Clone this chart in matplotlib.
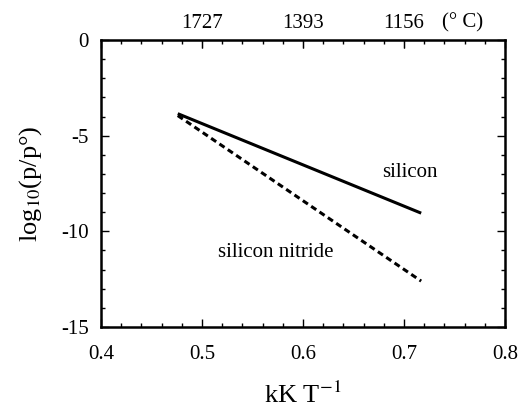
import numpy as np
import matplotlib
matplotlib.use('Agg')
import matplotlib.pyplot as plt
from matplotlib.ticker import MultipleLocator

# vapour pressure lines (end points)
inv_T = [0.476, 0.717]
log_p_si = [-3.85, -9.05]
log_p_sin = [-3.95, -12.6]

top_pos = [0.5, 0.6, 0.7]
top_labels = ['1727', '1393', '1156']

plt.rcParams['font.family'] = ['Liberation Serif', 'DejaVu Serif']
plt.rcParams['mathtext.fontset'] = 'stix'

fig = plt.figure(figsize=(5.26, 4.09), dpi=100)
ax = fig.add_axes([101/526, 1-327/409, 404/526, 287/409])

ax.plot(inv_T, log_p_si, color='black', lw=2.2, solid_capstyle='butt')
ax.plot(inv_T, log_p_sin, color='black', lw=2.2, ls=(0, (2, 1.3)))

ax.set_xlim(0.4, 0.8)
ax.set_ylim(-15, 0)
ax.xaxis.set_major_locator(MultipleLocator(0.1))
ax.xaxis.set_minor_locator(MultipleLocator(0.02))
ax.yaxis.set_major_locator(MultipleLocator(5))
ax.yaxis.set_minor_locator(MultipleLocator(1))
ax.tick_params(which='both', direction='in', top=True, right=True, labelsize=15, width=1)
ax.tick_params(which='major', length=6)
ax.tick_params(which='minor', length=3)
ax.tick_params(axis='x', pad=13)
ax.tick_params(axis='y', pad=9)
for s in ax.spines.values():
    s.set_linewidth(1.8)

ax.xaxis.set_major_formatter(plt.FuncFormatter(lambda v, p: '%.1f' % v))
ax.yaxis.set_major_formatter(plt.FuncFormatter(lambda v, p: '%d' % v))

# top axis in degrees C
sec = ax.secondary_xaxis('top')
sec.set_xticks(top_pos)
sec.set_xticklabels(top_labels)
sec.tick_params(direction='in', length=6, labelsize=15, pad=5)
ax.text(0.738, 1.025, '(° C)', transform=ax.get_xaxis_transform(),
        fontsize=15, ha='left', va='bottom')

ax.text(0.706, -6.9, 'silicon', fontsize=15, ha='center', va='center')
ax.text(0.573, -11.1, 'silicon nitride', fontsize=15, ha='center', va='center')

ax.set_xlabel('kK T$^{-1}$', fontsize=19, labelpad=13)
ax.set_ylabel('log$_{10}$(p/p°)', fontsize=19, labelpad=12)

fig.savefig('out.png', dpi=100)
